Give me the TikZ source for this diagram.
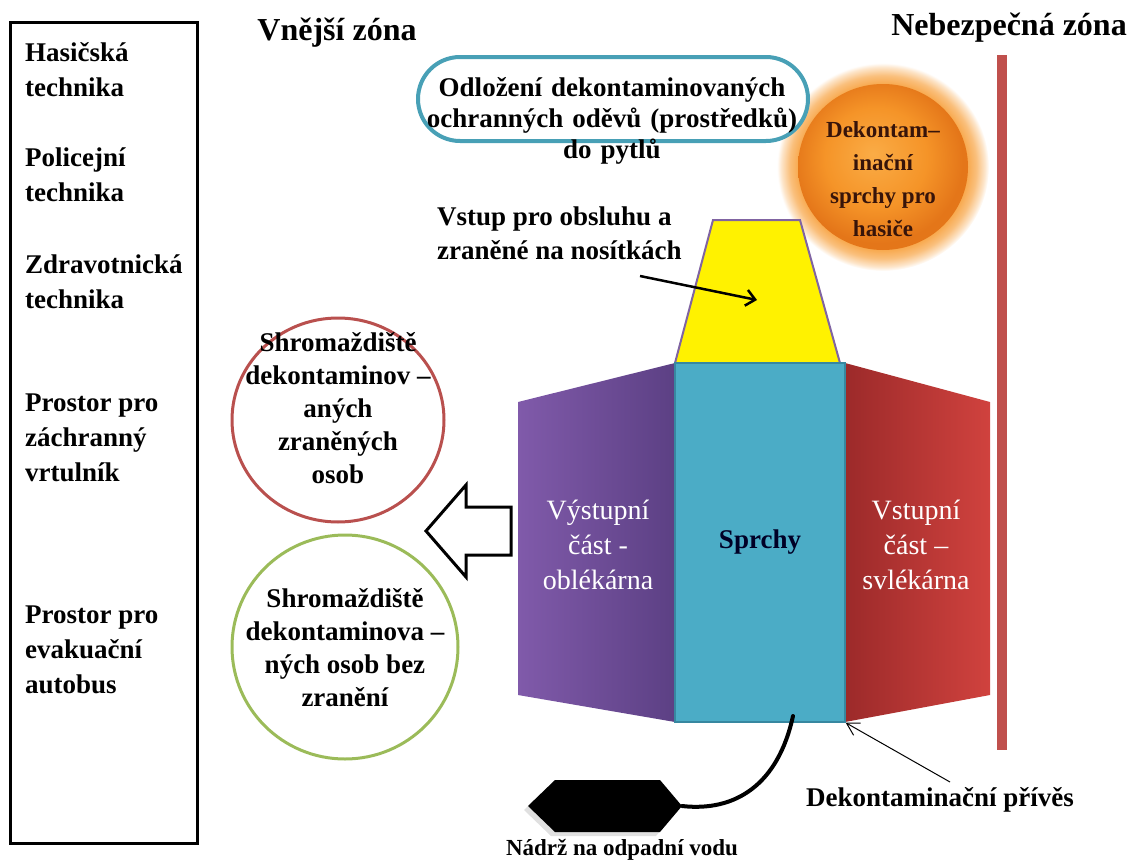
\documentclass[tikz,border=0pt]{standalone}
\usepackage{fontspec}
\setmainfont{Liberation Serif}
\usetikzlibrary{arrows.meta}

\definecolor{panelblue}{RGB}{75,172,198}
\definecolor{panelblueline}{RGB}{55,135,160}
\definecolor{purpleA}{RGB}{128,90,170}
\definecolor{purpleB}{RGB}{92,64,132}
\definecolor{redA}{RGB}{156,42,42}
\definecolor{redB}{RGB}{208,66,62}
\definecolor{trapline}{RGB}{128,100,162}
\definecolor{zonered}{RGB}{192,80,77}
\definecolor{ringred}{RGB}{185,80,78}
\definecolor{ringgreen}{RGB}{155,187,89}
\definecolor{ovalteal}{RGB}{72,160,182}
\definecolor{orlight}{RGB}{250,172,70}
\definecolor{ormid}{RGB}{245,148,40}
\definecolor{ordark}{RGB}{228,118,25}
\definecolor{glowor}{RGB}{248,170,80}
\definecolor{brownink}{RGB}{55,20,10}

\pgfdeclareradialshading{orangeglow}{\pgfpoint{0bp}{0bp}}{color(0bp)=(glowor); color(20bp)=(glowor); color(22bp)=(glowor!75); color(24bp)=(glowor!30); color(25bp)=(white); color(50bp)=(white)}
\pgfdeclareradialshading{orangedisc}{\pgfpoint{-3bp}{4bp}}{color(0bp)=(orlight); color(15bp)=(ormid); color(25bp)=(ordark); color(50bp)=(ordark)}

\tikzset{
  txt/.style={inner sep=0pt, align=center, font=\fontsize{27}{33}\selectfont\bfseries},
  sidetxt/.style={inner sep=0pt, align=left, anchor=west, font=\fontsize{27}{35}\selectfont\bfseries},
  headtxt/.style={inner sep=0pt, font=\fontsize{32}{36}\selectfont\bfseries},
  whitetxt/.style={inner sep=0pt, align=center, text=white, font=\fontsize{28}{35}\selectfont}
}

\begin{document}
\begin{tikzpicture}[x=1pt,y=1pt,yscale=-1,xscale=1]
\useasboundingbox (0,0) rectangle (1136,862);

%Left panel
\draw [line width=3pt] (10,22) rectangle (197,843);
% Text Node
\node [sidetxt] (hasici) at (25,69.5) {Hasičská\\technika};
% Text Node
\node [sidetxt] (policie) at (25,175) {Policejní\\technika};
% Text Node
\node [sidetxt] (zdrav) at (25,281.5) {Zdravotnická\\technika};
% Text Node
\node [sidetxt] (vrtulnik) at (25,438) {Prostor pro\\záchranný\\vrtulník};
% Text Node
\node [sidetxt] (autobus) at (25,650) {Prostor pro\\evakuační\\autobus};

% Zone titles
\node [headtxt] (vnejsi) at (337,33) {Vnější zóna};
\node [headtxt] (nebezpecna) at (1009,28) {Nebezpečná zóna};

%Zone border
\draw [zonered, line width=10pt] (1002,55) -- (1002,750);

%Shower for firefighters, oval
\shade [shading=orangeglow] (883,167) ellipse (106 and 104);
\draw [ovalteal, line width=4pt, fill=white, rounded corners=42pt] (418,57) rectangle (808,141);
\shade [shading=orangedisc] (883,167) ellipse (85 and 83);
\node [txt, text width=400pt, font=\fontsize{27}{31}\selectfont\bfseries] (odlozeni) at (612,121) {Odložení dekontaminovaných\\ochranných oděvů (prostředků)\\do pytlů};
\node [txt, text=brownink, font=\fontsize{23}{33}\selectfont\bfseries] (hasice) at (883,179) {Dekontam–\\inační\\sprchy pro\\hasiče};

%Entry for staff
\draw [trapline, line width=2pt, fill=yellow] (713,220) -- (800,220) -- (840,363) -- (675,363) -- cycle;
\coordinate (vstupin) at (757,300);
\node [txt, align=left, anchor=west, font=\fontsize{27}{34}\selectfont\bfseries] (vstup) at (437,233) {Vstup pro obsluhu a\\zraněné na nosítkách};
\draw [line width=2.5pt, -{Straight Barb[length=9pt,width=16pt]}] (640,276) -- (vstupin);

%Side panels
\shade [left color=purpleA, right color=purpleB] (518,402) -- (675,363) -- (675,722) -- (518,695) -- cycle;
\shade [left color=redA, right color=redB] (845,363) -- (990,402) -- (990,695) -- (845,722) -- cycle;
\node [draw=panelblueline, line width=1.5pt, fill=panelblue, minimum width=170pt, minimum height=359pt, inner sep=0pt, font=\fontsize{27}{33}\selectfont\bfseries, text=black!85!blue] (sprchy) at (760,542.5) {Sprchy};
\node [whitetxt] (vystupni) at (598,545) {Výstupní\\část -\\oblékárna};
\node [whitetxt] (vstupni) at (916,545) {Vstupní\\část –\\svlékárna};

%Gathering places
\draw [ringred, line width=3pt] (338,420) ellipse (106 and 102);
\node [txt] (zraneni) at (338,408) {Shromaždiště\\dekontaminov –\\aných\\zraněných\\osob};
\draw [ringgreen, line width=3pt] (345,647) ellipse (113 and 112);
\node [txt] (bezzraneni) at (345,648) {Shromaždiště\\dekontaminova –\\ných osob bez\\zranění};

%Exit arrow
\draw [line width=3pt, fill=white, line join=miter] (426,531) -- (466,485) -- (466,507) -- (511,507) -- (511,555) -- (466,555) -- (466,577) -- cycle;

%Waste water tank
\fill [black!12] (524,810) -- (551,784) -- (656,784) -- (678,810) -- (656,836) -- (551,836) -- cycle;
\fill [black] (528,806) -- (555,780) -- (660,780) -- (682,806) -- (660,832) -- (555,832) -- cycle;
\coordinate (nadrz) at (682,806);
\node [txt, font=\fontsize{23}{28}\selectfont\bfseries] (nadrzlbl) at (622,850) {Nádrž na odpadní vodu};
\coordinate (odtok) at (793,716);
\draw [line width=4pt, line cap=round] (odtok) .. controls (778,785) and (735,812) .. (nadrz);

%Trailer label
\node [txt] (privesl) at (940,800) {Dekontaminační přívěs};
\coordinate (privesstart) at (950,782);
\draw [line width=1pt, -{Straight Barb[length=12pt,width=14pt]}] (privesstart) -- (sprchy.south east);

\end{tikzpicture}
\end{document}
